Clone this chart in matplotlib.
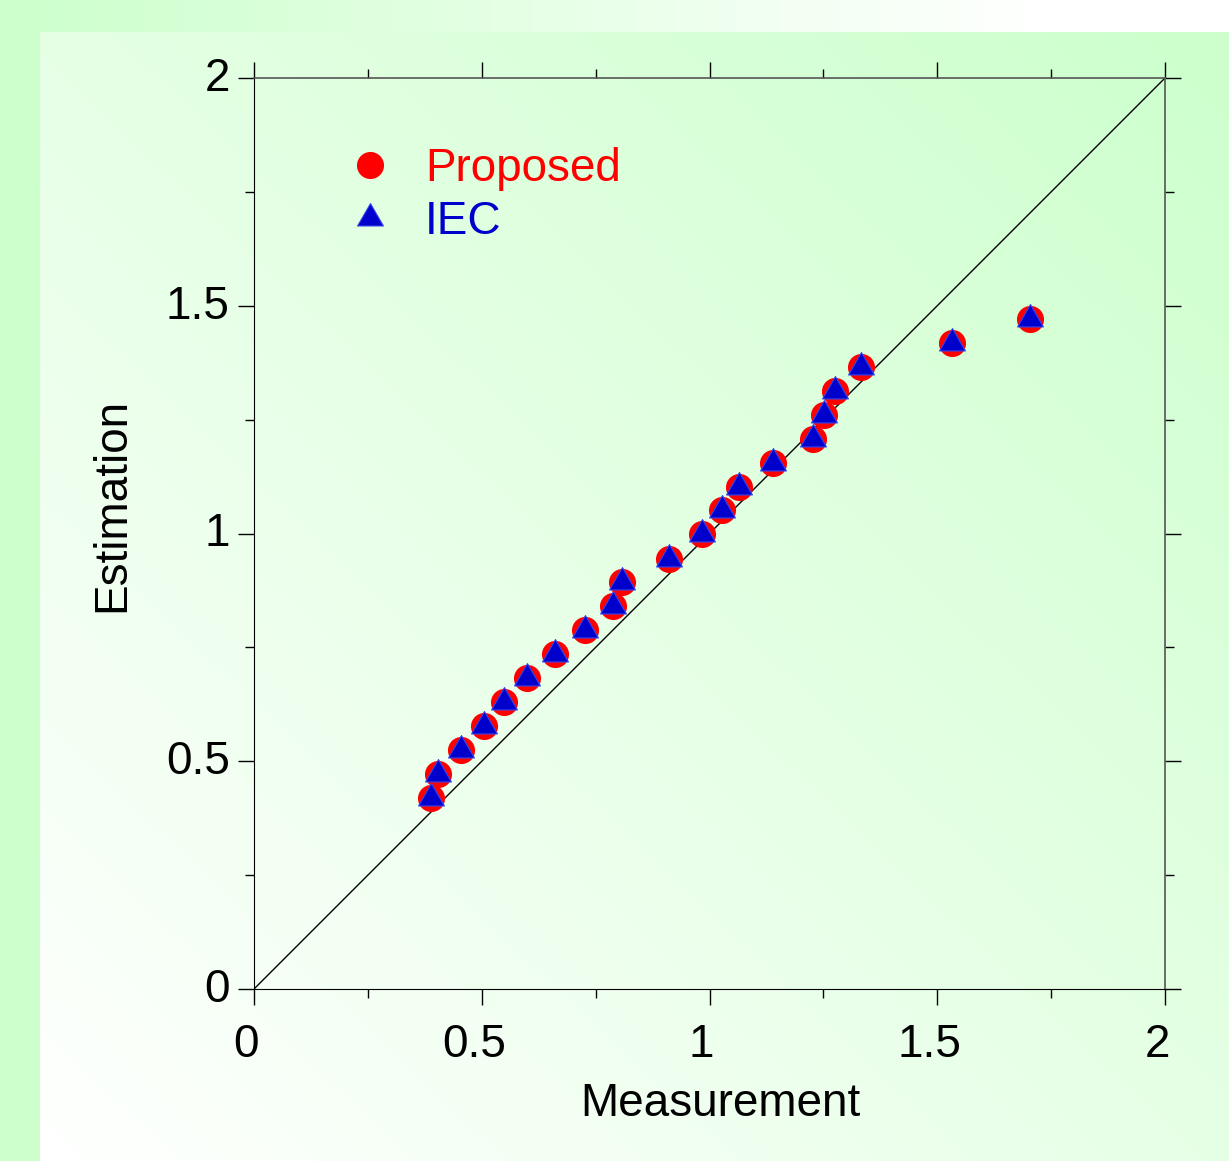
import numpy as np
import matplotlib
matplotlib.use('Agg')
import matplotlib.pyplot as plt
from matplotlib.path import Path
from matplotlib.ticker import MultipleLocator
import matplotlib.transforms as mtransforms

plt.rcParams['font.family'] = ['Liberation Sans', 'DejaVu Sans']

### data
measurement = [0.389, 0.405, 0.455, 0.504, 0.549, 0.600, 0.660, 0.727, 0.788, 0.808,
               0.911, 0.984, 1.027, 1.065, 1.139, 1.227, 1.251, 1.276, 1.333, 1.532, 1.704]
est_proposed = [0.419, 0.472, 0.525, 0.578, 0.630, 0.683, 0.735, 0.788, 0.841, 0.894,
                0.944, 0.999, 1.052, 1.102, 1.155, 1.207, 1.260, 1.313, 1.366, 1.418, 1.471]
est_iec = [0.419, 0.472, 0.525, 0.578, 0.630, 0.683, 0.735, 0.788, 0.841, 0.894,
           0.944, 0.999, 1.052, 1.102, 1.155, 1.207, 1.260, 1.313, 1.366, 1.418, 1.471]
diag = [0.0, 2.0]
ticks = [0, 0.5, 1, 1.5, 2]
tick_labels = ['0', '0.5', '1', '1.5', '2']

W, H = 1229, 1161
fs = 33
fig = plt.figure(figsize=(W/100., H/100.), dpi=100)

### background: green strip left, gradient strip on top, diagonal gradient panel
green = np.array([0.8, 1.0, 0.8])
white = np.array([1.0, 1.0, 1.0])
yy, xx = np.mgrid[0:H, 0:W].astype(float)
t = ((xx - 40) / (W - 40) + (H - yy) / (H - 32)) / 2.0
t = np.clip(t, 0, 1)
t[:32, :] = np.clip(1.0 - xx[:32, :] / (0.85 * W), 0, 1)
t[:, :40] = 1.0
bg = white * (1 - t[..., None]) + green * t[..., None]
ax_bg = fig.add_axes([0, 0, 1, 1])
ax_bg.imshow(bg, aspect='auto', interpolation='bilinear')
ax_bg.axis('off')

ax = fig.add_axes([254/W, 1 - 989/H, 911/W, 911/H])
ax.patch.set_alpha(0)

ax.plot(diag, diag, color='k', lw=1.0)

# triangle centred on its centroid
tri = Path([(0, 1), (-0.866, -0.5), (0.866, -0.5), (0, 1)],
           [Path.MOVETO, Path.LINETO, Path.LINETO, Path.CLOSEPOLY])

ax.plot(measurement, est_proposed, 'o', color='#ff0000', ms=19.5, mec='none',
        label='Proposed', clip_on=False)
ax.plot(measurement, est_iec, ls='none', marker=tri, color='#0000cc', ms=21.5,
        mec='#3344ee', mew=0.8, label='IEC', clip_on=False)

ax.set_xlim(0, 2)
ax.set_ylim(0, 2)
ax.set_xticks(ticks)
ax.set_xticklabels(tick_labels)
ax.set_yticks(ticks)
ax.set_yticklabels(tick_labels)
ax.xaxis.set_minor_locator(MultipleLocator(0.25))
ax.yaxis.set_minor_locator(MultipleLocator(0.25))
ax.tick_params(which='both', direction='out', top=True, right=True, labelsize=fs)
ax.tick_params(axis='x', pad=13)
ax.tick_params(axis='y', pad=6)
ax.tick_params(which='major', length=11.5, width=1.0)
ax.tick_params(which='minor', length=6.5, width=1.0)
for s in ['left', 'bottom']:
    ax.spines[s].set_color('k')
for s in ['top', 'right']:
    ax.spines[s].set_color('#555555')
    ax.spines[s].set_linewidth(1.2)

# labels sit a bit left / up of the ticks in the original
off_x = mtransforms.ScaledTranslation(-8/100., 0, fig.dpi_scale_trans)
for lab in ax.get_xticklabels():
    lab.set_transform(lab.get_transform() + off_x)
off_y = mtransforms.ScaledTranslation(0, 4/100., fig.dpi_scale_trans)
for lab in ax.get_yticklabels():
    lab.set_transform(lab.get_transform() + off_y)

ax.set_xlabel('Measurement', fontsize=fs)
ax.set_ylabel('Estimation', fontsize=fs)
ax.xaxis.set_label_coords(0.5115, -0.102)
ax.yaxis.set_label_coords(-0.131, 0.531)

leg = ax.legend(loc='upper left', bbox_to_anchor=(0.082, 0.9445), frameon=False,
                fontsize=fs, handletextpad=0.7, labelspacing=0.2,
                handlelength=1.0, labelcolor='linecolor', borderaxespad=0)

fig.savefig('out.png', dpi=100)
